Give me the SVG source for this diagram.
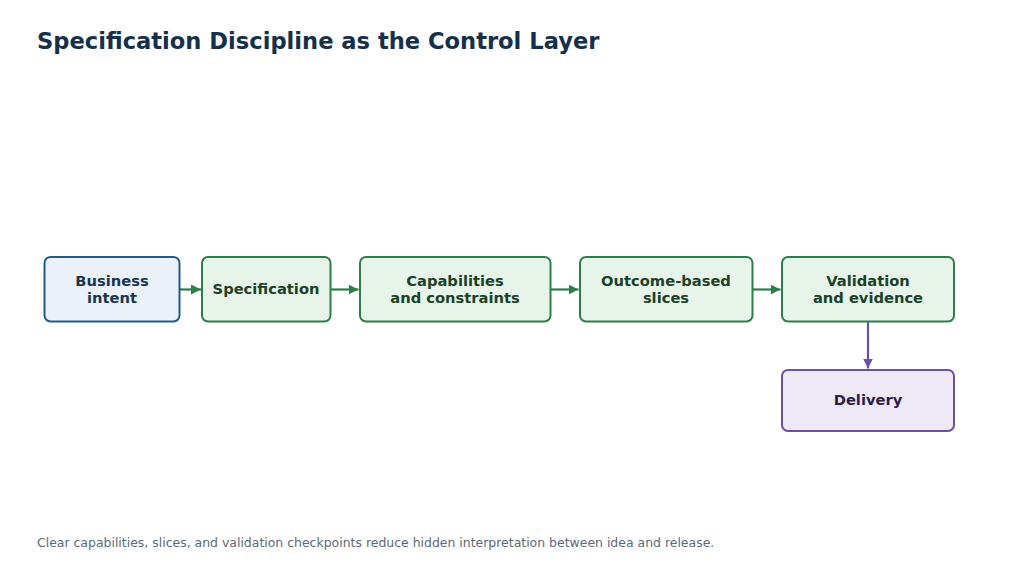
<svg xmlns="http://www.w3.org/2000/svg" width="1024" height="579" viewBox="0 0 1024 579">
<style>
text{font-family:"DejaVu Sans","Liberation Sans",sans-serif}
.title{font-size:22.6px;font-weight:bold;fill:#15304a}
.foot{font-size:12.46px;fill:#5a6a7a}
.lbl{font-size:14.7px;font-weight:bold;text-anchor:middle}
.blue rect{fill:#eaf1f9;stroke:#245a84;stroke-width:2}
.blue text{fill:#1a3550}
.green rect{fill:#e7f4e9;stroke:#2e7d4a;stroke-width:2}
.green text{fill:#1b4227}
.purple rect{fill:#efe8f7;stroke:#6c4fa8;stroke-width:2}
.purple text{fill:#2a1f4a}
.cg{stroke:#2e7d4a;stroke-width:2.2;fill:none}
.cp{stroke:#6c4fa8;stroke-width:2.2;fill:none}
</style>
<defs>
<marker id="ag" viewBox="0 0 10 10" refX="10" refY="5" markerWidth="10" markerHeight="10" orient="auto" markerUnits="userSpaceOnUse"><path d="M0,0 L10,5 L0,10 z" fill="#2e7d4a"/></marker>
<marker id="ap" viewBox="0 0 10 10" refX="10" refY="5" markerWidth="10" markerHeight="10" orient="auto" markerUnits="userSpaceOnUse"><path d="M0,0 L10,5 L0,10 z" fill="#6c4fa8"/></marker>
</defs>
<rect width="1024" height="579" fill="#ffffff"/>
<text class="title" x="37" y="49">Specification Discipline as the Control Layer</text>
<g id="connectors">
<path class="cg" d="M180,289.5 L201,289.5" marker-end="url(#ag)"/>
<path class="cg" d="M331,289.5 L358.5,289.5" marker-end="url(#ag)"/>
<path class="cg" d="M551,289.5 L578.5,289.5" marker-end="url(#ag)"/>
<path class="cg" d="M753,289.5 L780.5,289.5" marker-end="url(#ag)"/>
<path class="cp" d="M868,322 L868,368.5" marker-end="url(#ap)"/>
</g>
<g id="business-intent" class="blue">
<rect x="44.5" y="257" width="135" height="64.5" rx="6"/>
<text class="lbl" x="112" y="286">Business</text>
<text class="lbl" x="112" y="303">intent</text>
</g>
<g id="specification" class="green">
<rect x="202" y="257" width="128.5" height="64.5" rx="6"/>
<text class="lbl" x="266" y="294">Specification</text>
</g>
<g id="capabilities" class="green">
<rect x="360" y="257" width="190.5" height="64.5" rx="6"/>
<text class="lbl" x="455" y="286">Capabilities</text>
<text class="lbl" x="455" y="303">and constraints</text>
</g>
<g id="slices" class="green">
<rect x="580" y="257" width="172.5" height="64.5" rx="6"/>
<text class="lbl" x="666" y="286">Outcome-based</text>
<text class="lbl" x="666" y="303">slices</text>
</g>
<g id="validation" class="green">
<rect x="782" y="257" width="172" height="64.5" rx="6"/>
<text class="lbl" x="868" y="286">Validation</text>
<text class="lbl" x="868" y="303">and evidence</text>
</g>
<g id="delivery" class="purple">
<rect x="782" y="370" width="172" height="61" rx="6"/>
<text class="lbl" x="868" y="405">Delivery</text>
</g>
<text class="foot" x="37" y="547">Clear capabilities, slices, and validation checkpoints reduce hidden interpretation between idea and release.</text>
</svg>
